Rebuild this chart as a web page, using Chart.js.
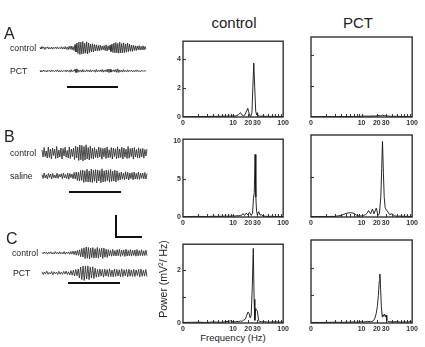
<!DOCTYPE html>
<html>
<head>
<meta charset="utf-8">
<script src="https://cdn.jsdelivr.net/npm/chart.js@4/dist/chart.umd.min.js"></script>
<style>
  html, body { margin:0; padding:0; background:#fff; }
  body { width:425px; height:347px; position:relative; overflow:hidden; font-family:"Liberation Sans", Arial, sans-serif; color:#222; }
  canvas { position:absolute; }
  .t { position:absolute; white-space:nowrap; line-height:1; transform:translateY(-50%); }
  .c { transform:translate(-50%,-50%); }
</style>
</head>
<body>
<canvas id="traces" width="180" height="347" style="left:0;top:0"></canvas>

<div class="t" style="left:4px;top:34px;font-size:16px">A</div>
<div class="t" style="left:4px;top:137px;font-size:16px">B</div>
<div class="t" style="left:6px;top:239px;font-size:16px">C</div>
<div class="t" style="left:10px;top:48px;font-size:8.7px">control</div>
<div class="t" style="left:10px;top:71px;font-size:8.7px">PCT</div>
<div class="t" style="left:10px;top:153px;font-size:8.7px">control</div>
<div class="t" style="left:10px;top:176px;font-size:8.7px">saline</div>
<div class="t" style="left:12px;top:253px;font-size:8.7px">control</div>
<div class="t" style="left:13px;top:273px;font-size:8.7px">PCT</div>
<div class="t c" style="left:234px;top:22px;font-size:15px">control</div>
<div class="t c" style="left:358px;top:22px;font-size:15px">PCT</div>
<div class="t c" style="left:233px;top:338px;font-size:9.5px">Frequency (Hz)</div>
<div class="t" style="left:163px;top:279px;font-size:10.5px;transform:translate(-50%,-50%) rotate(-90deg)">Power (mV<sup style="font-size:6.5px;vertical-align:4px">2</sup>/ Hz)</div>

<script>
// ---------- raw traces (amplitude, arbitrary units, up = positive) ----------
const traceA_control = [0.5,-1,1.5,-0.5,1,-1.5,0.8,-0.3,1.2,-1,0.5,-0.8,1,-1.2,0.6,-0.5,0.9,-0.7,1.1,-0.9,0.4,-0.6,1.3,-1.1,0.7,-1,1.5,-1.3,0.9,-1.6,1.8,-1.2,2,-1.8,1.5,
  -2.5,3.5,-4,5,-5.5,6,-6.5,5.8,-6,6.5,-5.5,4.8,-5.2,6.2,-6,5,-4.5,4,-3.8,4.2,-4,3.5,-3,3.2,-2.8,
  2.5,-2.8,3,-2.2,2,-1.8,2.4,-2.6,3.2,-3,2.2,-2,2.8,-3.5,4,
  -4.5,5,-4.8,5.5,-5,4.6,-5.2,5.8,-5,4.5,-4.8,5.2,-4.6,4,-4.2,4.8,-3.6,3.8,-3.2,3,-3.4,2.8,
  -2.4,2.2,-2.6,2,-1.8,2.4,-2,1.6,-1.8,2.2,-2,1.5,-1.2];
const traceA_PCT = [0.5,-0.8,0.3,-0.5,1,-0.6,0.4,-1,0.8,-0.3,0.6,-0.9,1.1,-0.4,0.2,-0.7,0.9,-0.5,1.2,-0.8,0.5,-1,0.7,-0.6,0.3,-0.4,0.8,-0.9,1,-0.5,0.6,-1.2,1.4,-0.8,0.5,
  -0.3,1.8,-1.5,2.2,-1.4,1,-0.6,0.8,-1.1,1.5,-0.9,0.4,-0.7,1.2,-0.5,0.9,-1,1.3,-0.8,0.6,-0.4,1,-1.2,1.6,-0.9,
  0.7,-0.5,1.1,-0.8,1.5,-1.2,0.9,-0.6,1.3,-1,2,-1.6,1.8,-1.1,0.8,-0.5,1.2,-0.9,1.6,-1.3,2.2,-1.5,1,-0.7,
  0.9,-1.1,1.4,-0.6,0.5,-0.9,1.2,-0.8,0.6,-0.4,1,-0.7,0.5,-0.9,0.8,-0.5,1.1,-0.6,0.4,-0.8,0.6,-0.3,0.5,-0.5,0.7,-0.4];
const traceB_control = [3,-4,5.5,-3.5,2,-5,6,-4.5,3.8,-6,5,-2.5,4,-5.5,6.5,-5,3,-4,5,-6,4.5,-3,5.8,-4.2,2.5,-5,6,-5.5,4,-3.5,
  5,-6.5,7,-5,6,-7.5,8,-6.8,7.5,-8,6.5,-7,8.2,-6,5.5,-7,6.8,-5.5,4.8,-6,5.5,-4.5,
  3.5,-5,6,-4,5.2,-6.2,4.5,-3.8,5,-5.5,6,-4.8,3.2,-4.5,5.5,-6,5,-3.5,4.2,-5.8,6.2,-5,4,-4.5,5.8,-6,
  5,-4.2,3.8,-5.5,6.5,-5.2,4.5,-3.6,5,-6,5.5,-4,3.5,-4.8,5.2,-5,4.2,-3.8,4.6,-5.2,3.5,-3,4];
const traceB_saline = [1.5,-2.5,3,-2,1.2,-2.8,2.5,-1.5,2,-3,2.6,-1.8,1,-2.2,2.8,-2.4,1.6,-1,2.2,-2.6,3,-2,1.4,-2.5,2.8,-3.2,2.5,-1.6,2,-2.8,
  3.5,-3,4,-4.5,3.8,-5,5.5,-4.5,6,-6.5,5.2,-5.8,6.8,-6,5,-6.2,7,-6.5,5.8,-5.2,6.4,-7,6,-5,5.5,-6.8,7.2,-6,5.2,-5.6,6,-4.8,5.5,-6.2,6.6,-5.4,4.8,-5,5.8,-6,5.2,-4.4,
  3.2,-3.8,4,-3.2,2.8,-3.5,4.2,-3,3.6,-4,3,-2.6,3.4,-3.8,4,-3,2.6,-3.2,3.8,-3.4,2.8,-2.4,3,-2.8,3.5,-3,2.5];
const traceC_control = [0.6,-0.8,1,-0.5,0.8,-1.2,0.9,-0.6,1.1,-0.9,0.5,-1,1.3,-0.7,0.8,-1.1,1.2,-0.8,0.6,-1,1.4,-1.2,0.9,-0.6,1.1,-1.3,1.5,-1.1,1.8,-1.6,2,-2.2,2.6,-2.4,
  3.2,-3.8,4.5,-4,5.2,-5.6,6,-5.2,5.5,-6,5,-4.6,5.4,-5,4.2,-4.8,5.6,-5.2,4.4,-4,4.8,-5.4,5,-4.2,3.8,-4.4,
  3.4,-3,2.6,-3.2,3.6,-2.8,2.4,-3,3.3,-2.7,3.6,-3.4,2.9,-2.5,3.1,-3.5,3.8,-3,2.6,-2.8,3.4,-3.1,2.7,-2.4,3,-3.2,3.5,-2.9,2.4,-2.6,3.2,-2.8,2.2,-2.5,2.8,-2.6];
const traceC_PCT = [1.2,-1.6,1,-0.8,1.8,-1.4,0.6,-1,1.5,-1.8,1.2,-0.7,0.9,-1.5,1.7,-1.2,0.8,-1.3,1.6,-1,1.9,-1.5,1.2,-2,2.4,-2.2,2.8,-3,3.5,-2.8,
  4,-5,6,-6.5,7,-7.5,6.8,-6,7.2,-6.6,5.8,-5,6.2,-5.5,4.8,-4.2,
  3.5,-3.8,4,-3.2,3.6,-4.2,3.8,-3,3.4,-3.6,4.2,-3.5,3,-3.8,4,-3.4,3.6,-3,3.2,-3.8,4.2,-3.6,3.2,-2.8,3.5,-3.9,3.8,-3.2,2.9,-3.4,3.7,-3.5,3,-2.6,3.4,-3.8,4,-3.3,2.8,-3.1,3.5,-3.6];

// ---------- power spectra: frequency (Hz) and power (mV^2/Hz) ----------
const freqA_control = [1,1.5,2,2.5,3,4,5,6,7,8,9,10,11,12,13,14,15,16,17,18,19,19.6,20.5,21.5,22.5,23.8,24.8,25.9,27,28.3,29.5,30.6,31.8,33,36,40,45,50,55,60,70,80,90,100];
const powA_control  = [0.02,0.03,0.02,0.04,0.03,0.05,0.04,0.06,0.05,0.07,0.06,0.08,0.06,0.1,0.18,0.3,0.15,0.08,0.12,0.3,0.5,0.6,0.35,0.08,0.05,0.3,2.0,3.7,2.1,0.4,0.15,0.3,0.1,0.06,0.05,0.07,0.04,0.06,0.03,0.05,0.04,0.03,0.04,0.02];
const freqA_PCT = [1,2,3,4,5,6,7,8,9,10,12,14,16,18,20,22,24,26,28,30,33,36,40,50,60,70,80,90,100];
const powA_PCT  = [0.02,0.03,0.02,0.03,0.02,0.03,0.04,0.03,0.04,0.05,0.06,0.05,0.07,0.06,0.08,0.1,0.07,0.12,0.08,0.1,0.06,0.05,0.04,0.05,0.03,0.04,0.03,0.04,0.03];
const freqB_control = [1,2,3,4,5,6,7,8,9,10,11,12,13,14,15,15.8,17,18.3,19.5,21.3,23,24.5,25.5,26.5,27.5,28.5,29.4,30.5,32.5,34.5,36.8,40,45,50,60,70,80,90,100];
const powB_control  = [0.05,0.08,0.06,0.1,0.08,0.1,0.12,0.1,0.12,0.15,0.12,0.18,0.15,0.2,0.25,0.45,0.2,0.5,0.3,0.6,0.2,0.5,2.4,3.2,8.2,2.6,0.8,0.3,0.7,0.25,0.3,0.12,0.1,0.08,0.1,0.06,0.08,0.05,0.06];
const freqB_saline = [1,2,3,4,4.9,6,7.1,8,9,10,11,12,13,13.7,15.1,16.4,17.6,19.5,21.2,22.5,24,25,25.9,27,28,29.2,30.5,32.1,34.2,36,39.8,45,50,60,70,80,90,100];
const powB_saline  = [0.05,0.06,0.08,0.2,0.45,0.55,0.45,0.2,0.12,0.15,0.2,0.3,0.5,0.8,0.4,1.0,0.4,1.1,0.2,0.4,2.5,6.0,9.4,5.5,2.5,1.2,0.9,0.8,0.5,0.3,0.4,0.15,0.1,0.12,0.08,0.1,0.06,0.08];
const freqC_control = [1,2,3,4,5,6,7,8,9,10,11,12,13,14,15,16,17.6,18.8,19.9,21,21.9,23,24.2,25.3,26.3,27.2,28.3,29.5,30.6,32.3,34,37,40,45,50,60,70,80,90,100];
const powC_control  = [0.02,0.03,0.02,0.04,0.03,0.03,0.05,0.06,0.08,0.05,0.04,0.06,0.05,0.08,0.06,0.1,0.15,0.3,0.42,0.35,0.2,0.3,1.4,2.84,0.9,0.1,0.55,0.5,0.45,0.1,0.05,0.06,0.04,0.05,0.03,0.04,0.05,0.03,0.04,0.02];
const freqC_PCT = [1,2,3,4,5,6,7,8,9,10,11,12,13,14,15,16,17,18.1,19.5,20.5,21.5,22.3,23,23.8,24.6,25.6,26.5,27.5,28.5,29.5,30.5,31.5,33,36,40,50,60,70,80,90,100];
const powC_PCT  = [0.02,0.02,0.03,0.02,0.03,0.03,0.04,0.03,0.04,0.05,0.04,0.05,0.06,0.05,0.06,0.05,0.08,0.15,0.35,0.6,1.0,1.5,1.77,1.2,0.6,0.22,0.3,0.25,0.32,0.22,0.28,0.1,0.06,0.05,0.04,0.05,0.03,0.04,0.03,0.05,0.03];

// ---------- tick labels ----------
const xTickValues = [1,10,20,30,100];
const xTickLabels = ['0','10','20','30','100'];
const xMinorTicks = [2,3,4,5,6,7,8,9,10,20,30,40,50,60,70,80,90];
const yTicksA = [0,2,4];  const yMarksA = [2,4];
const yTicksB = [0,5,10]; const yMarksB = [5];
const yTicksC = [0,2];    const yMarksC = [1,2];

// ================= left: raw traces =================
const traceLayout = [
  {d: traceA_control, x0: 40, x1: 146, base: 48},
  {d: traceA_PCT,     x0: 40, x1: 146, base: 71},
  {d: traceB_control, x0: 42, x1: 147, base: 153},
  {d: traceB_saline,  x0: 42, x1: 147, base: 176},
  {d: traceC_control, x0: 42, x1: 147, base: 253},
  {d: traceC_PCT,     x0: 42, x1: 147, base: 273},
];
const traceDatasets = traceLayout.map(t => ({
  data: t.d.map((v, i) => ({x: t.x0 + i * (t.x1 - t.x0) / (t.d.length - 1), y: t.base - v})),
  borderColor: '#2a2a2a', borderWidth: 0.85, pointRadius: 0, tension: 0, clip: false
}));
const bars = [
  [[67,87],[118,87]],
  [[69,192],[121,192]],
  [[68,283],[120,283]],
  [[116,215],[116,237],[142,237]]
];
bars.forEach(b => traceDatasets.push({
  data: b.map(p => ({x: p[0], y: p[1]})),
  borderColor: '#111', borderWidth: 2, pointRadius: 0, tension: 0, clip: false
}));
new Chart(document.getElementById('traces'), {
  type: 'line',
  data: {datasets: traceDatasets},
  options: {
    responsive: false, animation: false, events: [],
    layout: {padding: 0},
    plugins: {legend: {display: false}, tooltip: {enabled: false}},
    scales: {
      x: {type: 'linear', min: 0, max: 180, display: false},
      y: {type: 'linear', min: 0, max: 347, reverse: true, display: false}
    }
  }
});

// ================= right: spectra =================
const boxPlugin = {
  id: 'box',
  afterDraw(chart, args, opts) {
    const {ctx, chartArea: a, scales: {x, y}} = chart;
    ctx.save();
    ctx.strokeStyle = '#222';
    ctx.lineWidth = 1.3;
    ctx.strokeRect(a.left, a.top, a.right - a.left, a.bottom - a.top);
    ctx.lineWidth = 0.9;
    ctx.beginPath();
    (opts.yMarks || []).forEach(v => {
      const py = Math.round(y.getPixelForValue(v)) + 0.5;
      ctx.moveTo(a.left, py); ctx.lineTo(a.left + 3, py);
    });
    xMinorTicks.forEach(v => {
      const px = Math.round(x.getPixelForValue(v)) + 0.5;
      ctx.moveTo(px, a.bottom); ctx.lineTo(px, a.bottom - 3);
    });
    ctx.stroke();
    ctx.restore();
  }
};

const YW = 15, XH = 12, PT = 2, PR = 2;
function spectrum(freq, pow, box, ymax, yTicks, yMarks, showY) {
  const c = document.createElement('canvas');
  const left = box[0] - YW, top = box[1] - PT;
  const w = (box[2] - box[0]) + YW + PR, h = (box[3] - box[1]) + PT + XH;
  c.width = w; c.height = h;
  c.style.left = left + 'px'; c.style.top = top + 'px';
  document.body.appendChild(c);
  const tickFont = {family: '"Liberation Sans", Arial, sans-serif', size: 7, weight: 'bold'};
  new Chart(c, {
    type: 'line',
    data: {datasets: [{
      data: freq.map((f, i) => ({x: f, y: pow[i]})),
      borderColor: '#111', borderWidth: 0.9, pointRadius: 0, tension: 0
    }]},
    options: {
      responsive: false, animation: false, events: [],
      layout: {padding: {left: 0, top: PT, right: PR, bottom: 0}},
      plugins: {legend: {display: false}, tooltip: {enabled: false}, box: {yMarks}},
      scales: {
        x: {
          type: 'logarithmic', min: 1, max: 100,
          grid: {display: false, drawTicks: false}, border: {display: false},
          afterBuildTicks: s => { s.ticks = xTickValues.map(v => ({value: v})); },
          afterFit: s => { s.height = XH; },
          ticks: {
            autoSkip: false, maxRotation: 0, padding: 2, color: '#333', font: tickFont,
            callback: v => xTickLabels[xTickValues.indexOf(v)] ?? ''
          }
        },
        y: {
          type: 'linear', min: 0, max: ymax,
          grid: {display: false, drawTicks: false}, border: {display: false},
          afterBuildTicks: s => { s.ticks = yTicks.map(v => ({value: v})); },
          afterFit: s => { s.width = YW; },
          ticks: {display: showY, padding: 2, color: '#333', font: tickFont, callback: v => String(v)}
        }
      }
    },
    plugins: [boxPlugin]
  });
}

spectrum(freqA_control, powA_control, [183, 37, 289, 117], 5.2, yTicksA, yMarksA, true);
spectrum(freqA_PCT,     powA_PCT,     [311, 37, 418, 117], 5.2, yTicksA, yMarksA, false);
spectrum(freqB_control, powB_control, [183, 135, 289, 217], 10.2, yTicksB, yMarksB, true);
spectrum(freqB_saline,  powB_saline,  [311, 135, 418, 217], 10.2, yTicksB, yMarksB, false);
spectrum(freqC_control, powC_control, [183, 240, 289, 323], 3, yTicksC, yMarksC, true);
spectrum(freqC_PCT,     powC_PCT,     [311, 240, 418, 323], 3, yTicksC, yMarksC, false);
</script>
</body>
</html>
